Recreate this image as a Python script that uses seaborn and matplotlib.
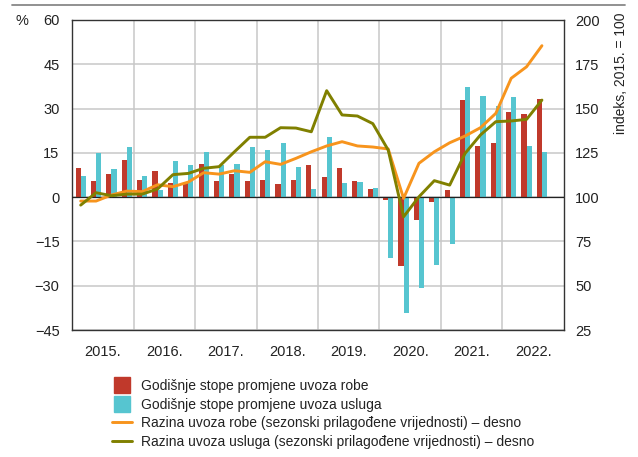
import numpy as np
import pandas as pd
import matplotlib
matplotlib.use("Agg")
import matplotlib.pyplot as plt
from matplotlib.lines import Line2D
import seaborn as sns

# quarterly data, 2015 Q1 - 2022 Q3
godine = ["2015.", "2016.", "2017.", "2018.", "2019.", "2020.", "2021.", "2022."]
robe_stope = [9.8, 5.5, 7.7, 12.5, 5.8, 8.9, 4.7, 4.7, 11.1, 5.6, 7.7, 5.6,
              5.8, 4.4, 5.8, 10.9, 6.8, 10.0, 5.6, 2.7, -1.0, -23.3, -7.8, -1.8,
              2.3, 32.9, 17.4, 18.2, 28.7, 28.0, 33.2]
usluge_stope = [7.1, 15.0, 9.5, 17.1, 7.0, 2.3, 12.1, 10.9, 15.3, 10.9, 11.3, 17.1,
                15.8, 18.3, 10.3, 2.7, 20.3, 4.9, 5.1, 3.2, -20.7, -39.4, -30.9, -22.9,
                -15.8, 37.3, 34.1, 31.0, 34.0, 17.2, 15.4]
robe_razina = [97.8, 97.8, 101.2, 103.4, 103.1, 107.0, 105.9, 108.5, 113.8, 113.0, 114.9, 114.0,
               120.0, 118.5, 121.9, 125.6, 128.9, 131.3, 128.9, 128.3, 127.2, 99.3, 119.1, 125.6,
               130.7, 134.5, 139.2, 147.3, 167.1, 173.6, 185.5]
usluge_razina = [95.5, 102.5, 100.8, 101.7, 101.7, 104.6, 112.7, 113.4, 116.3, 117.2, 125.6, 133.8,
                 133.8, 139.2, 139.0, 136.9, 160.1, 146.4, 145.8, 141.5, 126.6, 88.9, 100.2, 109.3,
                 106.8, 124.7, 135.1, 142.6, 143.0, 143.9, 154.8]

lbl_robe = "Godišnje stope promjene uvoza robe"
lbl_usl = "Godišnje stope promjene uvoza usluga"
lbl_rr = "Razina uvoza robe (sezonski prilagođene vrijednosti) – desno"
lbl_ru = "Razina uvoza usluga (sezonski prilagođene vrijednosti) – desno"

c_red = "#c0392b"
c_cyan = "#56c5d0"
c_orange = "#f7941d"
c_olive = "#808000"
c_text = "#222222"

sns.set_style("white")
plt.rcParams['font.family'] = ['Liberation Sans', 'DejaVu Sans']

n = len(robe_stope)
kv = np.arange(n)
df_bar = pd.DataFrame({
    "kvartal": np.concatenate([kv, kv]),
    "serija": [lbl_robe] * n + [lbl_usl] * n,
    "vrijednost": robe_stope + usluge_stope,
})
df_line = pd.DataFrame({"kvartal": kv, "robe": robe_razina, "usluge": usluge_razina})

fig = plt.figure(figsize=(6.38, 4.57), dpi=100)
ax = fig.add_axes([72 / 638, 1 - 330 / 457, 492 / 638, 310 / 457])

sns.barplot(data=df_bar, x="kvartal", y="vrijednost", hue="serija",
            palette=[c_red, c_cyan], width=0.66, gap=0, errorbar=None,
            legend=False, ax=ax, zorder=2, linewidth=0, saturation=1)

x0 = -0.565
ax.set_xlim(x0, x0 + 32)
ax.set_ylim(-45, 60)
ax.set_yticks(np.arange(-45, 61, 15))
ax.set_yticklabels([str(v).replace("-", "−") for v in range(-45, 61, 15)])
ax.set_xticks([x0 + 2 + 4 * k for k in range(8)])
ax.set_xticklabels(godine)
ax.set_xticks([x0 + 4 * k for k in range(1, 8)], minor=True)
ax.set_xlabel("")
ax.set_ylabel("")
ax.set_axisbelow(True)
ax.grid(axis="y", color="#c8c8c8", linewidth=1.1)
ax.grid(axis="x", which="minor", color="#c8c8c8", linewidth=1.1)
ax.axhline(0, color=c_text, linewidth=0.9, zorder=3)
ax.tick_params(axis="both", which="both", length=0, labelsize=10.5, colors=c_text)
ax.tick_params(axis="y", pad=9)
ax.tick_params(axis="x", pad=11)
for s in ax.spines.values():
    s.set_color("#333333")
    s.set_linewidth(1.0)

ax2 = ax.twinx()
sns.lineplot(data=df_line, x="kvartal", y="robe", color=c_orange, linewidth=2.1, ax=ax2)
sns.lineplot(data=df_line, x="kvartal", y="usluge", color=c_olive, linewidth=2.1, ax=ax2)
ax2.set_ylim(25, 200)
ax2.set_yticks(np.arange(25, 201, 25))
ax2.set_xlim(x0, x0 + 32)
ax2.set_xlabel("")
ax2.set_ylabel("")
ax2.tick_params(axis="y", length=0, labelsize=10.5, pad=8, colors=c_text)
for s in ax2.spines.values():
    s.set_visible(False)

fig.text(621 / 638, 1 - 12 / 457, "indeks, 2015. = 100", fontsize=10, rotation=90,
         ha="center", va="top", color=c_text)
fig.text(22 / 638, 1 - 21 / 457, "%", fontsize=10.5, ha="center", va="center", color=c_text)
fig.add_artist(Line2D([12 / 638, 625 / 638], [1 - 5 / 457, 1 - 5 / 457],
                      color="#888888", linewidth=1.3, transform=fig.transFigure))

handles = [
    Line2D([], [], marker="s", markersize=11.5, linestyle="none", color=c_red),
    Line2D([], [], marker="s", markersize=11.5, linestyle="none", color=c_cyan),
    Line2D([], [], color=c_orange, linewidth=2.1),
    Line2D([], [], color=c_olive, linewidth=2.1),
]
fig.legend(handles, [lbl_robe, lbl_usl, lbl_rr, lbl_ru], loc="upper left",
           bbox_to_anchor=(112 / 638, 1 - 379 / 457), frameon=False, fontsize=10,
           handlelength=1.45, handletextpad=0.65, labelspacing=0.33, borderpad=0,
           borderaxespad=0, labelcolor=c_text)

fig.savefig("out.png", dpi=100)
